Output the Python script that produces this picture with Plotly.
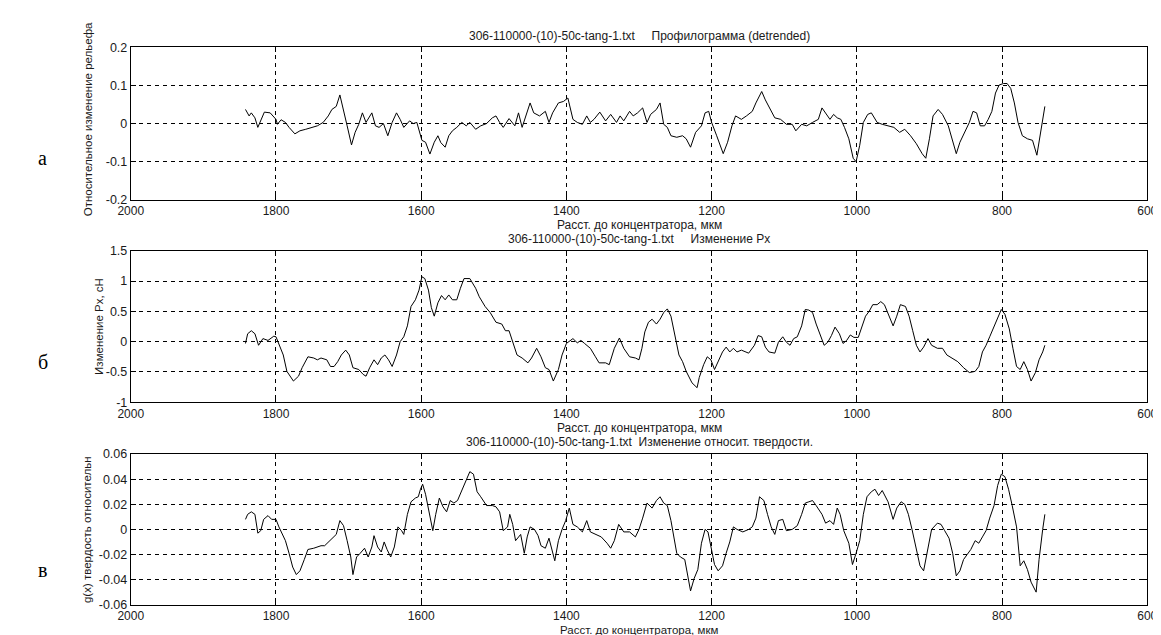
import plotly.graph_objects as go

# ---------------- data ----------------
profile_x = [1842, 1837, 1834, 1829, 1825, 1821, 1816, 1808, 1800, 1798, 1793, 1787, 1782, 1774, 1767, 1759,
             1751, 1743, 1735, 1728, 1723, 1717, 1712, 1707, 1702, 1696, 1691, 1686, 1681, 1676, 1668, 1663,
             1658, 1652, 1646, 1640, 1634, 1629, 1624, 1616, 1611, 1606, 1602, 1599, 1594, 1588, 1582, 1577,
             1573, 1567, 1562, 1557, 1551, 1544, 1538, 1533, 1525, 1518, 1510, 1502, 1497, 1492, 1487, 1479,
             1471, 1466, 1461, 1455, 1450, 1445, 1437, 1429, 1424, 1419, 1411, 1404, 1398,
             1391, 1385, 1378, 1372, 1367, 1362, 1354, 1346, 1339, 1331, 1326, 1321, 1313, 1308, 1302, 1295,
             1289, 1284, 1276, 1271, 1266, 1261, 1256, 1248, 1240, 1235, 1229, 1222, 1214, 1209, 1204, 1200,
             1193, 1184, 1178, 1172, 1167, 1159, 1152, 1144, 1139, 1131, 1126, 1121, 1113, 1105, 1097, 1089,
             1084, 1076, 1069, 1061, 1053, 1048, 1043, 1037, 1032, 1027, 1022, 1017, 1011, 1005, 1001, 996,
             991, 985, 980, 972, 965, 957, 949, 941, 934, 926, 918, 910, 905, 900, 895, 888, 882, 874, 869,
             863, 858, 850, 845, 840, 835, 830, 824, 819, 814, 809, 804, 798, 793, 788, 783, 778, 772, 765,
             758, 752, 747, 741]
profile_y = [0.037, 0.020, 0.028, 0.015, -0.010, 0.007, 0.030, 0.028, 0.011, -0.002, 0.010, 0.003, -0.010,
             -0.027, -0.019, -0.015, -0.010, -0.006, 0.003, 0.020, 0.037, 0.045, 0.075, 0.037, -0.006, -0.056,
             -0.023, -0.002, 0.028, 0.003, 0.028, -0.006, -0.010, 0.000, -0.032, 0.003, 0.028, 0.011, -0.010,
             0.007, 0.000, 0.003, -0.027, -0.044, -0.049, -0.080, -0.049, -0.032, -0.050, -0.062, -0.032,
             -0.019, -0.010, 0.003, -0.006, 0.003, -0.015, -0.006, 0.000, 0.015, 0.020, 0.003, -0.010, 0.013,
             -0.006, 0.028, -0.010, 0.028, 0.054, 0.028, 0.020, 0.032, 0.003, 0.028, 0.054, 0.058, 0.067,
             0.011, 0.003, -0.002, 0.020, 0.003, 0.011, 0.030, 0.007, 0.024, 0.003, 0.020, 0.007, 0.032,
             0.020, 0.028, 0.041, 0.003, 0.024, 0.037, 0.054, -0.002, -0.010, -0.032, -0.036, -0.032, -0.040,
             -0.062, -0.023, -0.006, 0.028, 0.032, 0.003, -0.032, -0.079, -0.049, -0.006, 0.020, 0.011, 0.020,
             0.032, 0.054, 0.084, 0.062, 0.045, 0.015, 0.011, -0.002, -0.002, -0.019, -0.002, -0.006, 0.003,
             0.011, 0.041, 0.028, 0.011, 0.024, 0.015, 0.011, -0.010, -0.040, -0.091, -0.100, -0.057, 0.003,
             0.024, 0.028, 0.003, -0.002, -0.006, -0.010, -0.023, -0.015, -0.032, -0.053, -0.079, -0.091,
             -0.040, 0.020, 0.037, 0.024, -0.006, -0.040, -0.079, -0.049, -0.015, 0.003, 0.032, 0.028, -0.006,
             -0.006, 0.011, 0.032, 0.080, 0.101, 0.105, 0.105, 0.092, 0.054, 0.003, -0.032, -0.040, -0.044,
             -0.083, -0.023, 0.045]

px_x = [1842, 1839, 1834, 1829, 1824, 1818, 1811, 1803, 1800, 1795, 1790, 1785, 1780, 1776, 1769, 1764, 1756,
        1748, 1743, 1738, 1730, 1725, 1720, 1715, 1710, 1704, 1699, 1694, 1686, 1680, 1676, 1671, 1665, 1660,
        1655, 1650, 1645, 1640, 1634, 1629, 1624, 1619, 1614, 1608, 1603, 1599, 1595, 1590, 1586, 1582, 1577,
        1572, 1567, 1562, 1557, 1551, 1546, 1541, 1533, 1525, 1520, 1512, 1505, 1497, 1489, 1484, 1479, 1474,
        1468, 1461, 1453, 1448, 1441, 1435, 1429, 1424, 1418, 1411, 1406, 1400,
        1396, 1391, 1385, 1380, 1375, 1367, 1360, 1355, 1346, 1341, 1334, 1327, 1321, 1313, 1305, 1300, 1296,
        1292, 1287, 1282, 1276, 1271, 1266, 1261, 1256, 1250, 1245, 1240, 1235, 1227, 1220, 1217, 1211, 1206,
        1201, 1196, 1191, 1185, 1180, 1175, 1170, 1165, 1159, 1154, 1149, 1141, 1136, 1131, 1126, 1121, 1113,
        1108, 1102, 1097, 1092, 1087, 1082, 1076, 1071, 1066, 1061, 1056, 1050, 1045, 1040, 1035, 1030, 1024,
        1019, 1014, 1009, 1004, 998, 993, 988, 983, 978, 972, 967, 962, 957, 950, 945, 940, 933, 928, 923, 918,
        913, 908, 902, 897, 889, 882, 876, 869, 861, 853, 845, 837, 832, 827, 822, 817, 811, 806, 801, 796, 790,
        785, 780, 775, 770, 765, 760, 754, 749, 744, 741]
px_y = [-0.03, 0.13, 0.18, 0.13, -0.06, 0.05, 0.02, 0.09, 0.08, -0.06, -0.22, -0.49, -0.59, -0.65, -0.57, -0.43,
        -0.25, -0.27, -0.30, -0.27, -0.30, -0.41, -0.41, -0.33, -0.22, -0.14, -0.22, -0.43, -0.46, -0.54, -0.57,
        -0.43, -0.30, -0.38, -0.27, -0.22, -0.30, -0.41, -0.22, 0.00, 0.08, 0.26, 0.58, 0.69, 0.85, 1.07, 1.04,
        0.85, 0.56, 0.42, 0.64, 0.76, 0.69, 0.77, 0.69, 0.69, 0.88, 1.04, 1.04, 0.88, 0.74, 0.58, 0.48, 0.32,
        0.29, 0.18, 0.18, 0.00, -0.22, -0.27, -0.35, -0.27, -0.11, -0.25, -0.43, -0.46, -0.65, -0.46, -0.22,
        -0.03,
        0.00, 0.05, -0.02, 0.02, -0.03, -0.11, -0.25, -0.35, -0.35, -0.38, -0.11, 0.06, -0.11, -0.25, -0.27,
        -0.30, -0.11, 0.16, 0.32, 0.37, 0.29, 0.37, 0.48, 0.54, 0.42, 0.10, -0.22, -0.33, -0.49, -0.68, -0.76,
        -0.59, -0.38, -0.25, -0.30, -0.46, -0.33, -0.17, -0.09, -0.17, -0.11, -0.17, -0.14, -0.17, -0.19, -0.06,
        0.10, 0.08, -0.09, -0.17, -0.19, -0.01, 0.08, -0.01, -0.06, 0.05, 0.08, 0.26, 0.53, 0.52, 0.48, 0.29,
        0.10, -0.06, -0.01, 0.10, 0.24, 0.13, -0.03, 0.02, 0.11, 0.07, 0.07, 0.24, 0.42, 0.50, 0.61, 0.61, 0.66,
        0.61, 0.45, 0.26, 0.42, 0.61, 0.58, 0.42, 0.18, -0.06, -0.17, -0.09, 0.05, -0.06, -0.11, -0.11, -0.22,
        -0.27, -0.33, -0.43, -0.51, -0.49, -0.41, -0.17, -0.06, 0.08, 0.24, 0.40, 0.53, 0.45, 0.21, -0.11,
        -0.41, -0.46, -0.33, -0.46, -0.65, -0.51, -0.30, -0.17, -0.06]

hard_x = [1842, 1839, 1834, 1829, 1825, 1821, 1817, 1811, 1806, 1800, 1796, 1793, 1787, 1782, 1777, 1772, 1767,
          1761, 1756, 1748, 1743, 1738, 1733, 1728, 1723, 1717, 1712, 1707, 1702, 1697, 1694, 1689, 1684, 1678,
          1673, 1668, 1665, 1660, 1655, 1651, 1647, 1642, 1637, 1632, 1627, 1624, 1619, 1614, 1608, 1604, 1601,
          1598, 1594, 1589, 1584, 1580, 1575, 1570, 1565, 1560, 1555, 1550, 1544, 1538, 1533, 1528, 1523, 1518,
          1510, 1502, 1497, 1492, 1487, 1481, 1478, 1474, 1470, 1463, 1458, 1454, 1450, 1444, 1439, 1435, 1429,
          1424, 1420, 1416, 1411, 1406, 1401, 1396,
          1391, 1385, 1378, 1372, 1367, 1360, 1352, 1344, 1339, 1334, 1328, 1321, 1313, 1305, 1300, 1295, 1289,
          1282, 1276, 1271, 1266, 1261, 1256, 1248, 1243, 1237, 1232, 1229, 1224, 1219, 1214, 1209, 1205, 1201,
          1196, 1191, 1185, 1180, 1175, 1170, 1165, 1157, 1149, 1144, 1139, 1134, 1128, 1123, 1118, 1113, 1108,
          1102, 1097, 1089, 1082, 1076, 1071, 1066, 1061, 1056, 1048, 1043, 1037, 1032, 1027, 1023, 1018, 1011,
          1006, 1001, 996, 991, 986, 980, 975, 970, 965, 957, 950, 945, 939, 934, 929, 924, 919, 913, 908, 903,
          897, 889, 884, 879, 873, 868, 863, 858, 853, 848, 843, 837, 832, 827, 822, 817, 811, 806, 801, 796, 791,
          786, 780, 775, 770, 765, 760, 753, 749, 744, 741]
hard_y = [0.008, 0.012, 0.014, 0.012, -0.003, -0.001, 0.008, 0.011, 0.008, 0.008, 0.002, -0.002, -0.009, -0.019,
          -0.030, -0.036, -0.033, -0.024, -0.016, -0.015, -0.014, -0.013, -0.013, -0.010, -0.007, -0.004, 0.007,
          0.003, -0.009, -0.022, -0.036, -0.022, -0.019, -0.015, -0.022, -0.014, -0.005, -0.014, -0.018, -0.010,
          -0.016, -0.022, -0.014, 0.002, -0.001, -0.004, 0.012, 0.022, 0.025, 0.026, 0.032, 0.036, 0.028, 0.012,
          -0.001, 0.012, 0.025, 0.018, 0.014, 0.023, 0.021, 0.023, 0.031, 0.040, 0.046, 0.044, 0.030, 0.026,
          0.019, 0.019, 0.018, 0.014, -0.001, 0.002, 0.012, 0.004, -0.009, -0.004, -0.019, -0.006, 0.002, 0.000,
          -0.005, -0.013, -0.015, -0.007, -0.015, -0.025, -0.009, 0.000, 0.007, 0.017,
          0.004, 0.002, -0.002, 0.007, -0.002, -0.004, -0.006, -0.011, -0.015, -0.009, 0.004, -0.002, -0.002,
          -0.006, 0.000, 0.009, 0.021, 0.017, 0.023, 0.026, 0.021, 0.019, 0.007, -0.019, -0.022, -0.024, -0.039,
          -0.049, -0.039, -0.032, -0.011, 0.000, -0.002, -0.014, -0.028, -0.033, -0.029, -0.019, -0.010, 0.002,
          0.000, -0.002, 0.000, 0.002, 0.009, 0.026, 0.023, 0.012, 0.002, -0.004, 0.007, 0.008, -0.001, 0.000,
          0.003, 0.012, 0.021, 0.022, 0.023, 0.019, 0.012, 0.005, 0.007, 0.004, 0.017, 0.012, -0.001, -0.011,
          -0.028, -0.019, -0.009, 0.012, 0.026, 0.030, 0.032, 0.027, 0.031, 0.022, 0.008, 0.017, 0.022, 0.020,
          0.012, 0.000, -0.014, -0.029, -0.033, -0.019, 0.000, 0.005, 0.004, -0.001, -0.007, -0.019, -0.037,
          -0.033, -0.024, -0.020, -0.016, -0.009, -0.011, -0.006, -0.001, 0.009, 0.019, 0.035, 0.044, 0.042,
          0.032, 0.019, 0.002, -0.029, -0.025, -0.032, -0.042, -0.050, -0.024, 0.000, 0.012]

x_ticks = [2000, 1800, 1600, 1400, 1200, 1000, 800, 600]
x_tick_text = ["2000", "1800", "1600", "1400", "1200", "1000", "800", "600"]
a_ticks = [0.2, 0.1, 0, -0.1, -0.2]
a_tick_text = ["0.2", "0.1", "0", "-0.1", "-0.2"]
b_ticks = [1.5, 1, 0.5, 0, -0.5, -1]
b_tick_text = ["1.5", "1", "0.5", "0", "-0.5", "-1"]
c_ticks = [0.06, 0.04, 0.02, 0, -0.02, -0.04, -0.06]
c_tick_text = ["0.06", "0.04", "0.02", "0", "-0.02", "-0.04", "-0.06"]

file_name = "306-110000-(10)-50c-tang-1.txt"
titles = [file_name + "\u00a0\u00a0\u00a0\u00a0\u00a0Профилограмма (detrended)",
          file_name + "\u00a0\u00a0\u00a0\u00a0\u00a0Изменение Px",
          file_name + "\u00a0\u00a0Изменение относит. твердости."]
x_title = "Расст. до концентратора, мкм"
y_titles = ["Относительное изменение рельефа", "Изменение Px, cH", "g(x) твердость относительн"]
panel_letters = ["а", "б", "в"]

# ---------------- layout ----------------
W, H = 1161, 635
def py(p):
    return 1 - p / H

left_px, right_px = 112, 1149
panels_px = [(33, 189), (241, 396), (449, 603)]
font = "Liberation Sans, Arial, sans-serif"
txt_col = "#1a1a1a"

fig = go.Figure()
series = [(profile_x, profile_y), (px_x, px_y), (hard_x, hard_y)]
yranges = [[-0.2, 0.2], [-1, 1.5], [-0.06, 0.06]]
yticks = [(a_ticks, a_tick_text), (b_ticks, b_tick_text), (c_ticks, c_tick_text)]

layout = dict(width=W, height=H, margin=dict(l=0, r=0, t=0, b=0),
              paper_bgcolor="white", plot_bgcolor="white", showlegend=False,
              font=dict(family=font, size=12, color=txt_col))
annotations = []
cx = (left_px + right_px) / 2 / W
for i, ((xs, ys), (top, bot)) in enumerate(zip(series, panels_px)):
    n = "" if i == 0 else str(i + 1)
    fig.add_trace(go.Scatter(x=xs, y=ys, mode="lines", line=dict(color="black", width=1),
                             xaxis="x" + n, yaxis="y" + n, hoverinfo="skip"))
    common = dict(showline=True, linecolor="black", linewidth=1, mirror="ticks",
                  ticks="inside", ticklen=5, tickcolor="black", zeroline=False,
                  showgrid=True, gridcolor="black", gridwidth=1, griddash="4px,4px")
    layout["xaxis" + n] = dict(common, domain=[left_px / W, right_px / W], range=[2000, 600],
                               tickmode="array", tickvals=x_ticks, ticktext=x_tick_text,
                               tickfont=dict(family=font, size=12, color=txt_col),
                               anchor="y" + n)
    layout["yaxis" + n] = dict(common, domain=[py(bot), py(top)], range=yranges[i],
                               tickmode="array", tickvals=yticks[i][0], ticktext=yticks[i][1],
                               tickfont=dict(family=font, size=12.5, color=txt_col),
                               anchor="x" + n)
    annotations.append(dict(text=titles[i], x=cx, y=py(top - 12), xref="paper", yref="paper",
                            xanchor="center", yanchor="middle", showarrow=False,
                            font=dict(family=font, size=12, color=txt_col)))
    annotations.append(dict(text=x_title, x=cx, y=py(bot + [26, 26, 25.5][i]), xref="paper", yref="paper",
                            xanchor="center", yanchor="middle", showarrow=False,
                            font=dict(family=font, size=[12, 12, 11.5][i], color=txt_col)))
    ytx = [68, 80, 68][i]
    annotations.append(dict(text=y_titles[i], x=ytx / W, y=py((top + bot) / 2 - [4, 0, 0][i]),
                            xref="paper", yref="paper",
                            xanchor="center", yanchor="middle", showarrow=False, textangle=-90,
                            font=dict(family=font, size=11.5, color=txt_col)))
    annotations.append(dict(text=panel_letters[i], x=22 / W, y=py([146, 355, 568][i]), xref="paper",
                            yref="paper", xanchor="center", yanchor="middle", showarrow=False,
                            font=dict(family="Liberation Serif, Times New Roman, serif", size=20, color="black")))
layout["annotations"] = annotations
fig.update_layout(**layout)
fig.write_html("out.html")
